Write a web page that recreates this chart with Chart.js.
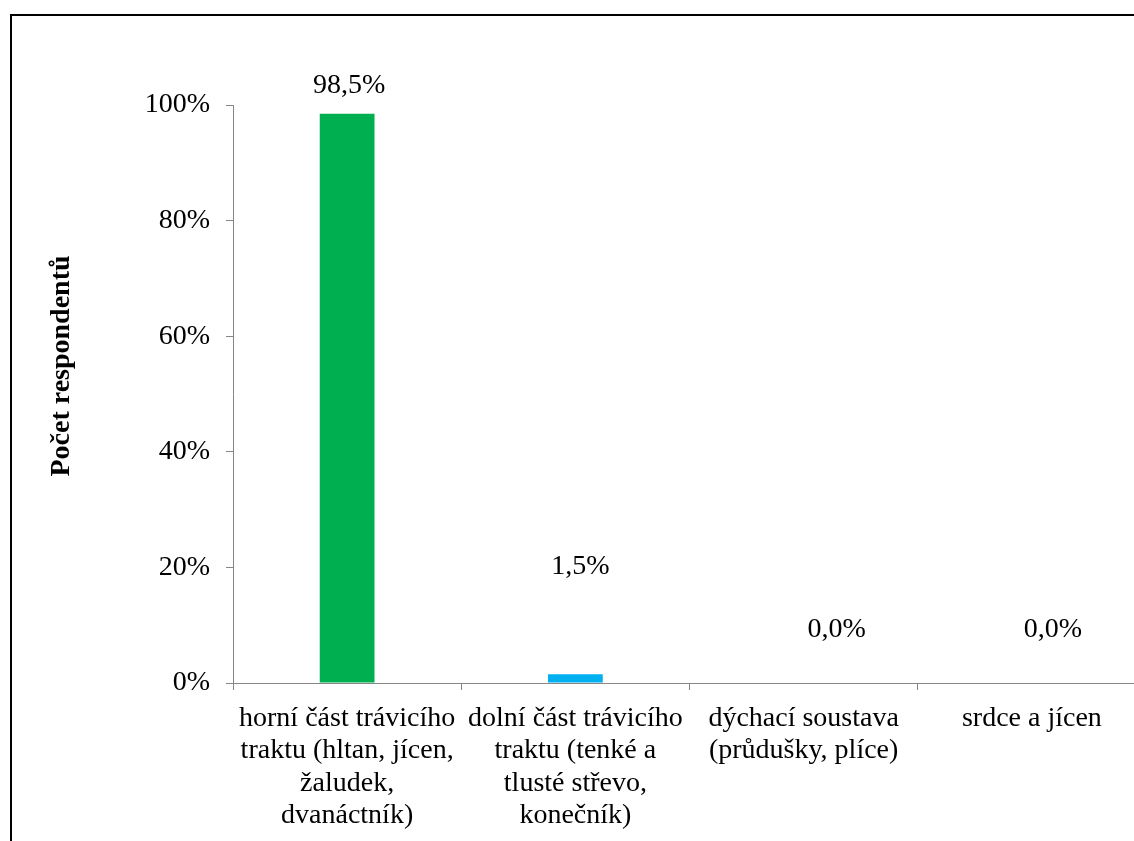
<!DOCTYPE html>
<html lang="cs">
<head>
<meta charset="utf-8">
<title>Počet respondentů</title>
<script src="https://cdn.jsdelivr.net/npm/chart.js@4.4.0/dist/chart.umd.min.js"></script>
<style>
  html, body { margin: 0; padding: 0; background: #fff; overflow: hidden; }
  #wrap { position: relative; width: 1134px; height: 841px; overflow: hidden; }
  #frame {
    position: absolute; left: 10px; top: 14px; width: 1200px; height: 900px;
    border-top: 2px solid #000; border-left: 2px solid #000;
  }
  #chart { position: absolute; left: 0; top: 0; }
</style>
</head>
<body>
<div id="wrap">
  <div id="frame"></div>
  <canvas id="chart" width="1150" height="841"></canvas>
</div>
<script>
// Kategorie (víceřádkové popisky osy X)
const categories = [
    ['horní část trávicího', 'traktu (hltan, jícen,', 'žaludek,', 'dvanáctník)'],
    ['dolní část trávicího', 'traktu (tenké a', 'tlusté střevo,', 'konečník)'],
    ['dýchací soustava', '(průdušky, plíce)'],
    ['srdce a jícen']
];

// Podíl respondentů v %
const shares = [98.5, 1.5, 0.0, 0.0];
const barColors = ['#00B050', '#00B0F0', '#00B050', '#00B050'];

// Hodnoty na ose Y
const yTicks = [0, 20, 40, 60, 80, 100];

const serif = '"Liberation Serif", "Times New Roman", serif';
Chart.defaults.font.family = serif;
Chart.defaults.color = '#000';

const axisGray = '#868686';

// Popisky hodnot nad sloupci (ručně posunuté jako v Excelu)
const valueLabels = {
    id: 'valueLabels',
    afterDatasetsDraw(chart, args, opts) {
        const ctx = chart.ctx;
        const yScale = chart.scales.y;
        const meta = chart.getDatasetMeta(0);
        ctx.save();
        ctx.font = '28px ' + serif;
        ctx.fillStyle = '#000';
        ctx.textAlign = 'center';
        ctx.textBaseline = 'middle';
        meta.data.forEach((bar, i) => {
            const v = chart.data.datasets[0].data[i];
            const text = v.toFixed(1).replace('.', ',') + '%';
            const x = bar.x + opts.shiftX[i];
            const y = yScale.getPixelForValue(opts.level[i]);
            ctx.fillText(text, x, y);
        });
        ctx.restore();
    }
};

// Svislý název osy Y
const yTitle = {
    id: 'yTitle',
    afterDraw(chart, args, opts) {
        const ctx = chart.ctx;
        const area = chart.chartArea;
        ctx.save();
        ctx.translate(opts.x, (area.top + area.bottom) / 2 + opts.dy);
        ctx.rotate(-Math.PI / 2);
        ctx.font = 'bold 28px ' + serif;
        ctx.fillStyle = '#000';
        ctx.textAlign = 'center';
        ctx.textBaseline = 'middle';
        ctx.fillText(opts.text, 0, 0);
        ctx.restore();
    }
};

new Chart(document.getElementById('chart'), {
    type: 'bar',
    data: {
        labels: categories,
        datasets: [{
            data: shares,
            backgroundColor: barColors,
            borderWidth: 0,
            barPercentage: 0.24,
            categoryPercentage: 1
        }]
    },
    options: {
        responsive: false,
        animation: false,
        layout: { padding: { top: 105, right: 4, left: 0, bottom: 0 } },
        plugins: {
            legend: { display: false },
            tooltip: { enabled: false },
            valueLabels: {
                level: [103.3, 20.2, 9.2, 9.2],
                shiftX: [2, 5, 33, 21]
            },
            yTitle: { text: 'Počet respondentů', x: 62, dy: -28 }
        },
        scales: {
            x: {
                afterFit(scale) { scale.height = 158; },
                grid: {
                    offset: true,
                    drawOnChartArea: false,
                    drawTicks: true,
                    tickLength: 7,
                    color: axisGray
                },
                border: { color: axisGray, width: 1 },
                ticks: {
                    maxRotation: 0,
                    autoSkip: false,
                    padding: 12,
                    font: { size: 28, lineHeight: 1.16 }
                }
            },
            y: {
                min: 0,
                max: 100,
                afterFit(scale) { scale.width = 233; },
                afterBuildTicks(scale) {
                    scale.ticks = yTicks.map(v => ({ value: v }));
                },
                grid: {
                    drawOnChartArea: false,
                    drawTicks: true,
                    tickLength: 7,
                    color: axisGray
                },
                border: { color: axisGray, width: 1 },
                ticks: {
                    padding: 16,
                    font: { size: 28 },
                    callback: v => v + '%'
                }
            }
        }
    },
    plugins: [valueLabels, yTitle]
});
</script>
</body>
</html>
